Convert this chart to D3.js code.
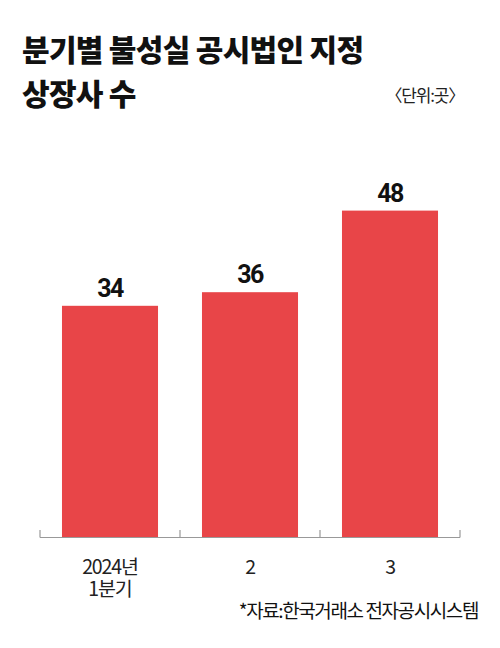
<!DOCTYPE html>
<html><head><meta charset="utf-8">
<script src="https://cdn.jsdelivr.net/npm/d3@7"></script>
<style>
html,body{margin:0;padding:0;background:#fff;}
svg{display:block;}
</style></head>
<body>
<svg id="c" width="500" height="648"></svg>
<script>
const categories = ["2024년\n1분기", "2", "3"];
const values = [34, 36, 48];
const titleLines = ["분기별 불성실 공시법인 지정", "상장사 수"];
const unitLabel = "〈단위:곳〉";
const sourceLabel = "*자료:한국거래소 전자공시시스템";

const svg = d3.select("#c");
const KR = "'Noto Sans CJK KR', 'Noto Sans', sans-serif";
const W = 500, H = 648;
const left = 40, right = 460, baseY = 537;

svg.append("rect").attr("width", W).attr("height", H).attr("fill", "#fff");

titleLines.forEach((t, i) => svg.append("text").attr("x", 22).attr("y", 61 + i * 44)
  .attr("font-family", KR).attr("font-weight", 900)
  .attr("font-size", 30).attr("fill", "#111").attr("letter-spacing", -0.7).text(t));

svg.append("text").attr("x", 464).attr("y", 102).attr("text-anchor", "end")
  .attr("font-family", KR).attr("font-size", 17).attr("fill", "#222").attr("letter-spacing", -1.2)
  .text(unitLabel);

const x = d3.scaleBand().domain(categories).range([left, right]).paddingInner(0.314).paddingOuter(0.157);
const y = d3.scaleLinear().domain([0, 50]).range([baseY, baseY - 340]);

svg.append("g").selectAll("rect").data(values).join("rect")
  .attr("x", (d, i) => x(categories[i]))
  .attr("width", x.bandwidth())
  .attr("y", d => y(d))
  .attr("height", d => y(0) - y(d))
  .attr("fill", "#E84548");

svg.append("g").selectAll("text").data(values).join("text")
  .attr("x", (d, i) => x(categories[i]) + x.bandwidth() / 2)
  .attr("y", d => y(d) - 9)
  .attr("text-anchor", "middle")
  .attr("font-family", "Roboto, sans-serif").attr("font-weight", 700)
  .attr("font-size", 25).attr("fill", "#111").attr("letter-spacing", -1.5)
  .text(d => d);

// axis
const ax = svg.append("g").attr("stroke", "#999").attr("stroke-width", 1.2);
ax.append("line").attr("x1", left).attr("x2", right).attr("y1", baseY + 0.5).attr("y2", baseY + 0.5);
const edges = categories.map(c => x(c) - x.step() * x.paddingInner() / 2).concat([right]);
ax.selectAll("line.t").data(edges).join("line").attr("class", "t")
  .attr("x1", d => d).attr("x2", d => d).attr("y1", baseY + 0.5).attr("y2", baseY - 7);

const xg = svg.append("g");
categories.forEach(c => {
  c.split("\n").forEach((l, i) => {
    xg.append("text").attr("x", x(c) + x.bandwidth() / 2).attr("y", 574 + i * 22)
      .attr("text-anchor", "middle")
      .attr("font-family", KR).attr("font-size", 19.5).attr("fill", "#222").attr("letter-spacing", -1.1)
      .text(l);
  });
});

svg.append("text").attr("x", 478).attr("y", 618).attr("text-anchor", "end")
  .attr("font-family", KR).attr("font-size", 19).attr("fill", "#111").attr("letter-spacing", -1.4)
  .text(sourceLabel);
</script>
</body></html>
